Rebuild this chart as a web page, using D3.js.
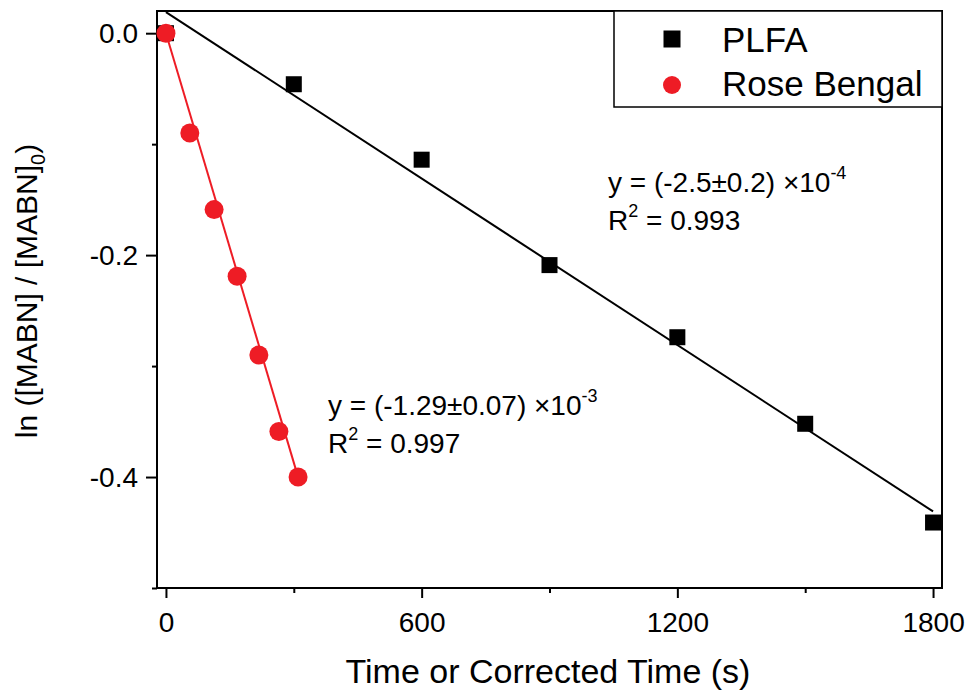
<!DOCTYPE html>
<html>
<head>
<meta charset="utf-8">
<script src="https://cdn.jsdelivr.net/npm/d3@7"></script>
<style>
  html, body { margin: 0; padding: 0; background: #fff; }
  svg { display: block; font-family: "Liberation Sans", Arial, sans-serif; }
</style>
</head>
<body>
<svg id="chart" width="968" height="690"></svg>
<script>
// Measured data: ln of relative MABN concentration vs (corrected) time
const plfaTime = [0, 300, 600, 900, 1200, 1500, 1800];
const plfaLn = [0, -0.046, -0.114, -0.209, -0.274, -0.352, -0.441];
const roseTime = [0, 56, 113, 167, 218, 265, 310];
const roseLn = [0, -0.090, -0.159, -0.219, -0.290, -0.359, -0.400];

// Linear fits (slope, intercept, x range)
const plfaFit = { slope: -2.5e-4, intercept: 0.019, x0: 0, x1: 1800 };
const roseFit = { slope: -1.29e-3, intercept: 0, x0: 0, x1: 314 };

const xTicks = [0, 600, 1200, 1800];
const xMinor = [300, 900, 1500];
const yTicks = [0, -0.2, -0.4];
const yMinor = [-0.1, -0.3, -0.5];

const svg = d3.select("#chart");
const plotL = 157, plotR = 942, plotT = 11, plotB = 588;

const x = d3.scaleLinear().domain([-21, 1821]).range([plotL, plotR]);
const y = d3.scaleLinear().domain([-0.5, 0.02]).range([plotB, plotT]);

// Frame
svg.append("rect")
  .attr("x", plotL).attr("y", plotT)
  .attr("width", plotR - plotL).attr("height", plotB - plotT)
  .attr("fill", "none").attr("stroke", "#000").attr("stroke-width", 2);

// Axes
const xAxis = svg.append("g").attr("transform", `translate(0,${plotB})`)
  .call(d3.axisBottom(x).tickValues(xTicks).tickSize(10).tickPadding(14).tickFormat(d3.format("d")));
const xAxisMinor = svg.append("g").attr("transform", `translate(0,${plotB})`)
  .call(d3.axisBottom(x).tickValues(xMinor).tickSize(5).tickFormat(""));
const yAxis = svg.append("g").attr("transform", `translate(${plotL},0)`)
  .call(d3.axisLeft(y).tickValues(yTicks).tickSize(11).tickPadding(8).tickFormat(d3.format(".1f")));
const yAxisMinor = svg.append("g").attr("transform", `translate(${plotL},0)`)
  .call(d3.axisLeft(y).tickValues(yMinor).tickSize(5).tickFormat(""));

[xAxis, xAxisMinor, yAxis, yAxisMinor].forEach(g => {
  g.select(".domain").remove();
  g.selectAll("line").attr("stroke", "#000").attr("stroke-width", 2);
  g.selectAll("text").attr("fill", "#000").style("font-size", "28px")
    .style("font-family", "'Liberation Sans', Arial, sans-serif");
});
yAxis.selectAll("text").text(d => d3.format(".1f")(d).replace("\u2212", "-"));

// Axis titles
svg.append("text")
  .attr("x", 548).attr("y", 683)
  .attr("text-anchor", "middle").style("font-size", "34px")
  .text("Time or Corrected Time (s)");

const yt = svg.append("text")
  .attr("transform", `translate(37,291) rotate(-90)`)
  .attr("text-anchor", "middle").style("font-size", "30px");
yt.append("tspan").text("ln ([MABN] / [MABN]");
yt.append("tspan").attr("dy", 8).style("font-size", "20px").text("0");
yt.append("tspan").attr("dy", -8).text(")");

// Fit lines
function drawFit(fit, color) {
  svg.append("line")
    .attr("x1", x(fit.x0)).attr("y1", y(fit.intercept + fit.slope * fit.x0))
    .attr("x2", x(fit.x1)).attr("y2", y(fit.intercept + fit.slope * fit.x1))
    .attr("stroke", color).attr("stroke-width", 2);
}
drawFit(plfaFit, "#000");
drawFit(roseFit, "#ee1c25");

// PLFA squares
const sq = 16;
svg.append("g").selectAll("rect")
  .data(plfaTime.map((t, i) => [t, plfaLn[i]]))
  .join("rect")
  .attr("x", d => x(d[0]) - sq / 2).attr("y", d => y(d[1]) - sq / 2)
  .attr("width", sq).attr("height", sq).attr("fill", "#000");

// Rose Bengal circles
svg.append("g").selectAll("circle")
  .data(roseTime.map((t, i) => [t, roseLn[i]]))
  .join("circle")
  .attr("cx", d => x(d[0])).attr("cy", d => y(d[1]))
  .attr("r", 9.5).attr("fill", "#ee1c25");

// Fit annotations
function annotate(px, py, prefix, exp, r2) {
  const t1 = svg.append("text").attr("x", px).attr("y", py).style("font-size", "28px");
  t1.append("tspan").text(prefix);
  t1.append("tspan").attr("dy", -13).style("font-size", "18px").text(exp);
  svg.append("text").attr("x", px).attr("y", py + 38).style("font-size", "28px")
    .call(t => {
      t.append("tspan").text("R");
      t.append("tspan").attr("dy", -13).style("font-size", "18px").text("2");
      t.append("tspan").attr("dy", 13).text(" = " + r2);
    });
}
annotate(608, 192, "y = (-2.5\u00b10.2) \u00d710", "-4", "0.993");
annotate(328, 415, "y = (-1.29\u00b10.07) \u00d710", "-3", "0.997");

// Legend
svg.append("rect")
  .attr("x", 614).attr("y", plotT).attr("width", plotR - 614).attr("height", 107 - plotT)
  .attr("fill", "#fff").attr("stroke", "#000").attr("stroke-width", 1.5);
svg.append("rect").attr("x", 672 - 8.5).attr("y", 39 - 8.5).attr("width", 17).attr("height", 17).attr("fill", "#000");
svg.append("circle").attr("cx", 672).attr("cy", 85).attr("r", 9).attr("fill", "#ee1c25");
svg.append("text").attr("x", 722).attr("y", 52).style("font-size", "35px").text("PLFA");
svg.append("text").attr("x", 722).attr("y", 96).style("font-size", "35px").text("Rose Bengal");
</script>
</body>
</html>
